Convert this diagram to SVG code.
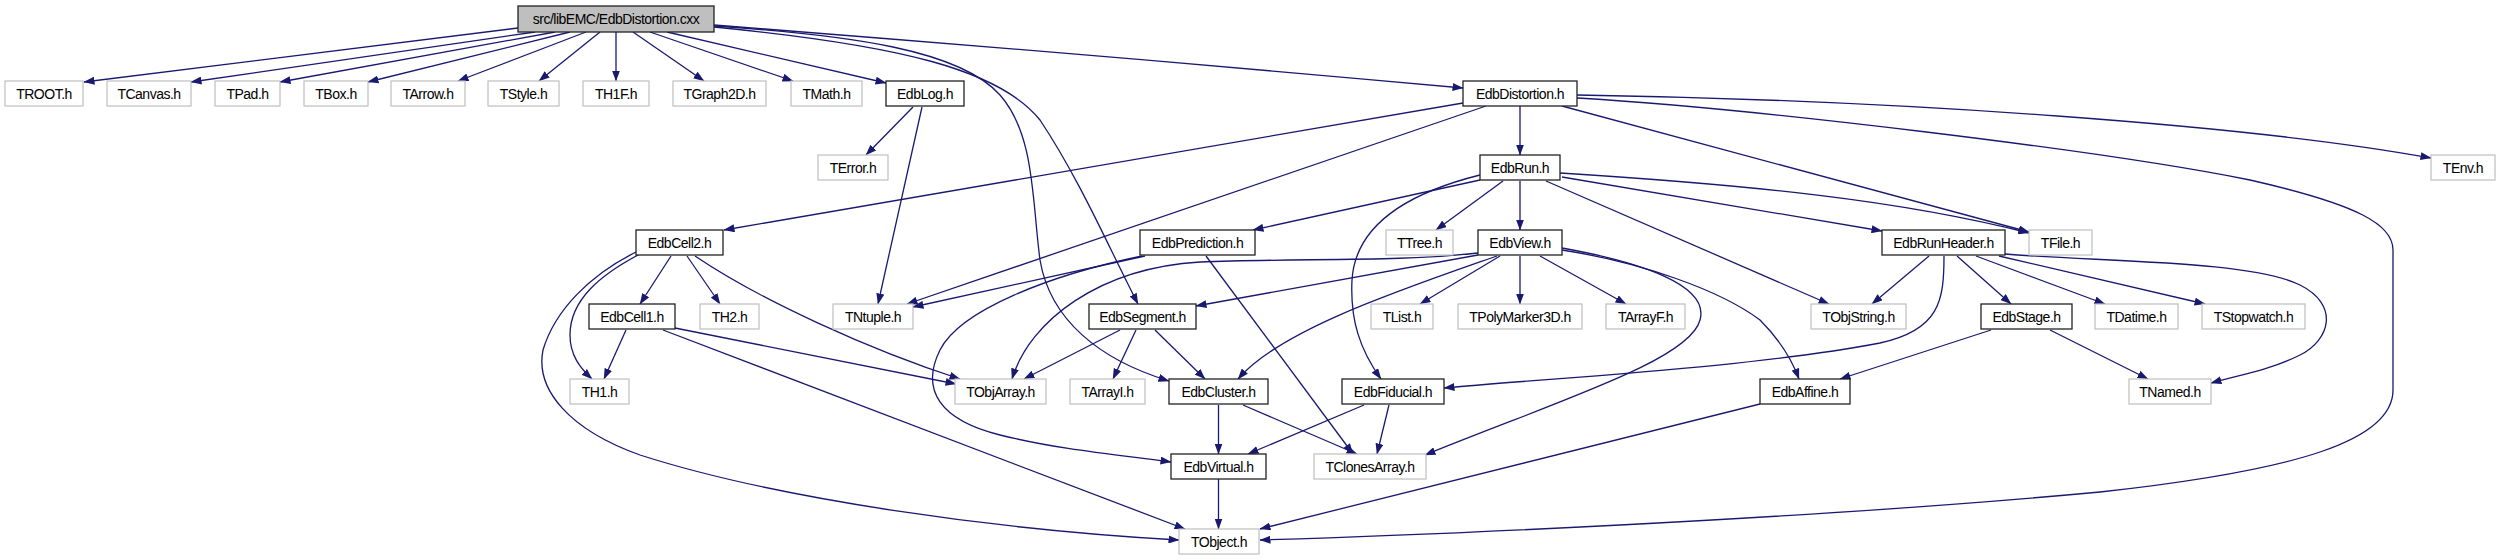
<svg xmlns="http://www.w3.org/2000/svg" width="2501" height="560" viewBox="0 0 2501 560">
<style>
.n rect{fill:#ffffff;stroke:#222222;stroke-width:1.3}
.g rect{fill:#ffffff;stroke:#bfbfbf;stroke-width:1.2}
.r rect{fill:#bfbfbf;stroke:#222222;stroke-width:1.3}
text{font-family:"Liberation Sans",Arial,sans-serif;font-size:14px;letter-spacing:-0.5px;fill:#000000;text-anchor:middle}
.e path{fill:none;stroke:#191970;stroke-width:1.3;marker-end:url(#ah)}
</style>
<defs>
<marker id="ah" markerUnits="userSpaceOnUse" markerWidth="11" markerHeight="8" refX="10.5" refY="4" orient="auto">
<path d="M0,0 L11,4 L0,8 z" fill="#191970"/>
</marker>
</defs>
<rect width="2501" height="560" fill="#ffffff"/>
<g id="connectors" class="e">
<path d="M518,28 L84,82"/>
<path d="M535,32 L191,82"/>
<path d="M555,32 L280,82"/>
<path d="M570,32 L368,82"/>
<path d="M586,32 L458,81"/>
<path d="M600,32 L539,81"/>
<path d="M616,32 L616,81"/>
<path d="M633,32 L704,81"/>
<path d="M650,32 L793,81"/>
<path d="M667,32 L886,83"/>
<path d="M714,25 Q1100,55 1463,88"/>
<path d="M714,27 C900,45 1000,70 1040,120 C1080,180 1110,250 1138,304"/>
<path d="M714,26 C850,35 960,50 1000,95 C1035,135 1032,200 1040,260 C1050,320 1100,360 1169,381"/>
<path d="M913,107 L866,155"/>
<path d="M922,107 L878,304"/>
<path d="M1520,106 L1520,155"/>
<path d="M1463,103 L724,230"/>
<path d="M1486,106 L907,304"/>
<path d="M1562,106 L2029,232"/>
<path d="M1577,95 C1900,100 2250,125 2431,158"/>
<path d="M1577,98 C1750,108 2100,150 2250,180 C2360,205 2393,225 2393,250 L2393,390 C2393,440 2300,470 2100,492 C1800,520 1400,536 1260,540"/>
<path d="M1480,180 L1253,230"/>
<path d="M1480,175 C1400,195 1355,230 1352,280 C1350,320 1360,350 1381,379"/>
<path d="M1503,181 L1436,230"/>
<path d="M1520,181 L1520,230"/>
<path d="M1546,181 L1829,304"/>
<path d="M1562,177 L1882,231"/>
<path d="M1560,173 C1750,185 1900,200 2029,233"/>
<path d="M1145,256 L913,307"/>
<path d="M1142,256 C1050,275 960,310 940,350 C920,390 940,420 1000,435 C1060,450 1120,455 1171,462"/>
<path d="M1206,256 L1353,454"/>
<path d="M1500,256 L1420,304"/>
<path d="M1520,256 L1520,304"/>
<path d="M1540,256 L1626,304"/>
<path d="M1478,255 L1196,306"/>
<path d="M1497,256 C1400,290 1280,330 1238,379"/>
<path d="M1478,253 C1400,262 1300,258 1200,262 C1100,268 1030,320 1012,379"/>
<path d="M1562,248 C1640,262 1710,285 1700,320 C1690,360 1560,400 1425,455"/>
<path d="M1562,250 C1640,262 1720,290 1760,320 C1780,340 1792,360 1799,379"/>
<path d="M1929,256 L1872,304"/>
<path d="M1944,256 C1944,300 1940,330 1880,343 C1750,368 1550,378 1444,388"/>
<path d="M1957,256 L2011,304"/>
<path d="M1976,256 L2105,304"/>
<path d="M1999,256 L2205,304"/>
<path d="M2005,254 C2100,262 2250,260 2300,285 C2340,305 2330,340 2300,355 C2270,370 2240,375 2211,383"/>
<path d="M2050,330 L2148,379"/>
<path d="M1991,330 L1840,379"/>
<path d="M1760,404 L1260,529"/>
<path d="M1364,405 L1248,454"/>
<path d="M1389,405 L1377,454"/>
<path d="M1218.5,405 L1218.5,454"/>
<path d="M1243,405 L1357,454"/>
<path d="M1218.5,479 L1218.5,529"/>
<path d="M1120,330 L1024,379"/>
<path d="M1136,330 L1113,379"/>
<path d="M1155,330 L1205,379"/>
<path d="M671,256 L640,304"/>
<path d="M687,256 L720,304"/>
<path d="M695,256 C760,300 870,350 960,379"/>
<path d="M640,254 C600,275 570,300 570,335 C570,355 580,368 592,379"/>
<path d="M636,252 C590,275 555,310 543,350 C535,390 570,430 640,455 C780,500 1000,530 1179,540"/>
<path d="M626,330 L604,379"/>
<path d="M675,328 L956,384"/>
<path d="M663,330 L1185,529"/>
</g>
<g id="root" class="r"><rect x="518" y="6" width="196" height="26"/><text x="616" y="24">src/libEMC/EdbDistortion.cxx</text></g>
<g id="TROOT" class="g"><rect x="5" y="81" width="78" height="25"/><text x="44" y="98.5">TROOT.h</text></g>
<g id="TCanvas" class="g"><rect x="107" y="81" width="84" height="25"/><text x="149" y="98.5">TCanvas.h</text></g>
<g id="TPad" class="g"><rect x="215" y="81" width="65" height="25"/><text x="247.5" y="98.5">TPad.h</text></g>
<g id="TBox" class="g"><rect x="304" y="81" width="64" height="25"/><text x="336" y="98.5">TBox.h</text></g>
<g id="TArrow" class="g"><rect x="391" y="81" width="74" height="25"/><text x="428" y="98.5">TArrow.h</text></g>
<g id="TStyle" class="g"><rect x="488" y="81" width="71" height="25"/><text x="523.5" y="98.5">TStyle.h</text></g>
<g id="TH1F" class="g"><rect x="583" y="81" width="66" height="25"/><text x="616" y="98.5">TH1F.h</text></g>
<g id="TGraph2D" class="g"><rect x="673" y="81" width="93" height="25"/><text x="719.5" y="98.5">TGraph2D.h</text></g>
<g id="TMath" class="g"><rect x="791" y="81" width="71" height="25"/><text x="826.5" y="98.5">TMath.h</text></g>
<g id="EdbLog" class="n"><rect x="886" y="81" width="78" height="25"/><text x="925" y="98.5">EdbLog.h</text></g>
<g id="EdbDistortion" class="n"><rect x="1463" y="81" width="114" height="25"/><text x="1520" y="98.5">EdbDistortion.h</text></g>
<g id="TError" class="g"><rect x="818" y="155" width="70" height="25"/><text x="853" y="172.5">TError.h</text></g>
<g id="EdbRun" class="n"><rect x="1480" y="155" width="80" height="25"/><text x="1520" y="172.5">EdbRun.h</text></g>
<g id="TEnv" class="g"><rect x="2431" y="155" width="64" height="25"/><text x="2463" y="172.5">TEnv.h</text></g>
<g id="EdbCell2" class="n"><rect x="636" y="230" width="87" height="25"/><text x="679.5" y="247.5">EdbCell2.h</text></g>
<g id="EdbPrediction" class="n"><rect x="1140" y="230" width="115" height="25"/><text x="1197.5" y="247.5">EdbPrediction.h</text></g>
<g id="TTree" class="g"><rect x="1386" y="230" width="67" height="25"/><text x="1419.5" y="247.5">TTree.h</text></g>
<g id="EdbView" class="n"><rect x="1478" y="230" width="84" height="25"/><text x="1520" y="247.5">EdbView.h</text></g>
<g id="EdbRunHeader" class="n"><rect x="1882" y="230" width="123" height="25"/><text x="1943.5" y="247.5">EdbRunHeader.h</text></g>
<g id="TFile" class="g"><rect x="2029" y="230" width="63" height="25"/><text x="2060.5" y="247.5">TFile.h</text></g>
<g id="EdbCell1" class="n"><rect x="589" y="304" width="86" height="25"/><text x="632" y="321.5">EdbCell1.h</text></g>
<g id="TH2" class="g"><rect x="700" y="304" width="59" height="25"/><text x="729.5" y="321.5">TH2.h</text></g>
<g id="TNtuple" class="g"><rect x="833" y="304" width="80" height="25"/><text x="873" y="321.5">TNtuple.h</text></g>
<g id="EdbSegment" class="n"><rect x="1089" y="304" width="107" height="25"/><text x="1142.5" y="321.5">EdbSegment.h</text></g>
<g id="TList" class="g"><rect x="1371" y="304" width="62" height="25"/><text x="1402" y="321.5">TList.h</text></g>
<g id="TPolyMarker3D" class="g"><rect x="1458" y="304" width="124" height="25"/><text x="1520" y="321.5">TPolyMarker3D.h</text></g>
<g id="TArrayF" class="g"><rect x="1606" y="304" width="79" height="25"/><text x="1645.5" y="321.5">TArrayF.h</text></g>
<g id="TObjString" class="g"><rect x="1811" y="304" width="95" height="25"/><text x="1858.5" y="321.5">TObjString.h</text></g>
<g id="EdbStage" class="n"><rect x="1981" y="304" width="91" height="25"/><text x="2026.5" y="321.5">EdbStage.h</text></g>
<g id="TDatime" class="g"><rect x="2095" y="304" width="83" height="25"/><text x="2136.5" y="321.5">TDatime.h</text></g>
<g id="TStopwatch" class="g"><rect x="2202" y="304" width="103" height="25"/><text x="2253.5" y="321.5">TStopwatch.h</text></g>
<g id="TH1" class="g"><rect x="570" y="379" width="59" height="25"/><text x="599.5" y="396.5">TH1.h</text></g>
<g id="TObjArray" class="g"><rect x="955" y="379" width="91" height="25"/><text x="1000.5" y="396.5">TObjArray.h</text></g>
<g id="TArrayI" class="g"><rect x="1070" y="379" width="75" height="25"/><text x="1107.5" y="396.5">TArrayI.h</text></g>
<g id="EdbCluster" class="n"><rect x="1169" y="379" width="99" height="25"/><text x="1218.5" y="396.5">EdbCluster.h</text></g>
<g id="EdbFiducial" class="n"><rect x="1342" y="379" width="102" height="25"/><text x="1393" y="396.5">EdbFiducial.h</text></g>
<g id="EdbAffine" class="n"><rect x="1760" y="379" width="90" height="25"/><text x="1805" y="396.5">EdbAffine.h</text></g>
<g id="TNamed" class="g"><rect x="2129" y="379" width="82" height="25"/><text x="2170" y="396.5">TNamed.h</text></g>
<g id="EdbVirtual" class="n"><rect x="1171" y="454" width="95" height="25"/><text x="1218.5" y="471.5">EdbVirtual.h</text></g>
<g id="TClonesArray" class="g"><rect x="1314" y="454" width="112" height="25"/><text x="1370" y="471.5">TClonesArray.h</text></g>
<g id="TObject" class="g"><rect x="1179" y="529" width="80" height="25"/><text x="1219" y="546.5">TObject.h</text></g>
</svg>
